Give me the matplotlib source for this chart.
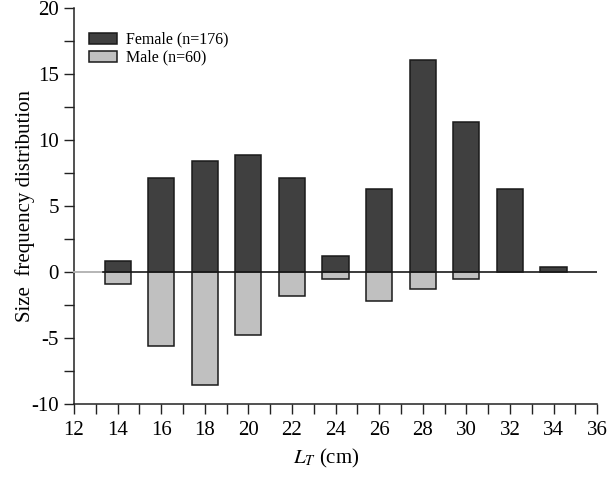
import numpy as np
from matplotlib import pyplot as plt
from matplotlib.ticker import MultipleLocator

# size classes (cm) and frequencies
size_classes = [14, 16, 18, 20, 22, 24, 26, 28, 30, 32, 34]
female_freq = [0.8, 7.15, 8.45, 8.85, 7.15, 1.2, 6.3, 16.1, 11.4, 6.3, 0.35]
male_freq = [-0.9, -5.6, -8.6, -4.75, -1.8, -0.5, -2.2, -1.3, -0.5, 0, 0]

female_label = "Female (n=176)"
male_label = "Male (n=60)"

plt.rcParams['font.family'] = ['Liberation Serif', 'DejaVu Serif']
plt.rcParams['mathtext.fontset'] = 'stix'
plt.rcParams['axes.unicode_minus'] = False

fig = plt.figure(figsize=(6.14, 4.78), dpi=100)
ax = fig.add_axes([0.1205, 0.155, 0.852, 0.828])

bar_width = 1.2
ax.bar(size_classes, female_freq, width=bar_width, color="#404040",
       edgecolor="#1a1a1a", linewidth=1.1, label=female_label, zorder=2)
male_bars = ax.bar(size_classes, male_freq, width=bar_width, color="#c0c0c0",
                   edgecolor="#1a1a1a", linewidth=1.1, label=male_label, zorder=2)
# empty male classes have no visible box
for b, v in zip(male_bars, male_freq):
    if v == 0:
        b.set_visible(False)

# zero line (light grey stub near the axis as in the original)
ax.plot([12, 13.35], [0, 0], color="#b0b0b0", linewidth=1.3, zorder=3, clip_on=False)
ax.plot([13.35, 36], [0, 0], color="#1a1a1a", linewidth=1.2, zorder=3)

ax.set_xlim(12, 36)
ax.set_ylim(-10, 20)
ax.xaxis.set_major_locator(MultipleLocator(2))
ax.xaxis.set_minor_locator(MultipleLocator(1))
ax.yaxis.set_major_locator(MultipleLocator(5))
ax.yaxis.set_minor_locator(MultipleLocator(2.5))

for side in ["top", "right"]:
    ax.spines[side].set_visible(False)
for side in ["left", "bottom"]:
    ax.spines[side].set_linewidth(1.1)
    ax.spines[side].set_color("#222222")

ax.tick_params(axis='both', which='both', direction='out', length=7, width=1.0,
               color="#222222", labelsize=15)
ax.tick_params(axis='x', which='major', pad=5)
ax.tick_params(axis='y', which='major', pad=4)

ax.set_xlabel(r"$L_T$ (cm)", fontsize=15)
ax.xaxis.set_label_coords(0.482, -0.11)
ax.set_ylabel("Size  frequency distribution", fontsize=15, labelpad=-3)

ax.legend(loc='upper left', bbox_to_anchor=(0.028, 0.94), frameon=False,
          fontsize=11.5, borderpad=0, borderaxespad=0, handlelength=1.8,
          handleheight=0.7, labelspacing=0.12, handletextpad=0.55)

plt.savefig("out.png", dpi=100)
